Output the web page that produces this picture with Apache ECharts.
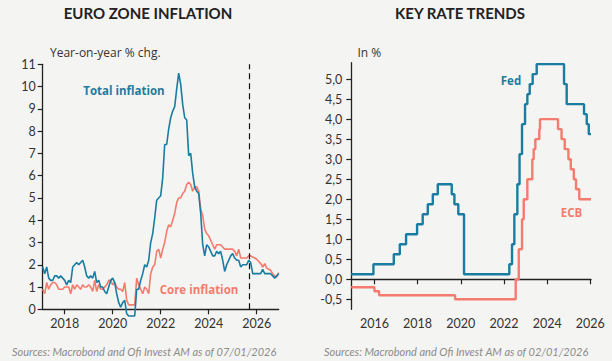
<!DOCTYPE html>
<html><head><meta charset="utf-8">
<script src="https://cdn.jsdelivr.net/npm/echarts@6/dist/echarts.min.js"></script>
<style>html,body{margin:0;padding:0;background:#f4f4f2;}#c{width:612px;height:361px;}</style>
</head><body><div id="c"></div>
<script>
// ---------- Euro zone inflation (monthly, Feb 2017 -> Dec 2026) ----------
const inflationStartYear = 2017;
const inflationStartMonth = 2; // February
const headline = [
  1.9,1.6,1.9,1.4,1.3,1.3,1.5,1.5,1.4,1.5,1.4,
  1.3,1.1,1.3,1.2,1.9,2.0,2.1,2.0,2.1,2.2,1.9,1.5,
  1.4,1.5,1.4,1.7,1.2,1.3,1.0,1.0,0.8,0.7,1.0,1.3,
  1.4,1.2,0.7,0.3,0.1,0.3,0.4,-0.2,-0.3,-0.3,-0.3,-0.3,
  0.9,0.9,1.3,1.6,2.0,1.9,2.2,3.0,3.4,4.1,4.9,5.0,
  5.1,5.9,7.4,7.4,8.1,8.6,8.9,9.1,9.9,10.6,10.1,9.2,
  8.6,8.5,6.9,7.0,6.1,5.5,5.3,5.2,4.3,2.9,2.4,2.9,
  2.8,2.6,2.4,2.4,2.6,2.5,2.6,2.2,1.7,2.0,2.2,2.4,
  2.5,2.3,2.2,2.2,1.9,2.0,2.0,2.0,2.2,2.1,1.6,1.6,
  1.6,1.6,1.6,1.8,1.6,1.6,1.6,1.6,1.5,1.4,1.5,1.6
];
const core = [
  0.9,0.7,1.2,0.9,1.1,1.2,1.2,1.1,0.9,0.9,0.9,
  1.0,1.0,1.0,0.7,1.1,0.9,1.1,1.0,0.9,1.1,1.0,1.0,
  1.1,1.0,0.8,1.3,0.8,1.1,0.9,0.9,1.0,1.1,1.3,1.3,
  1.1,1.2,1.0,0.9,0.9,0.8,1.2,0.4,0.2,0.2,0.2,0.2,
  1.4,1.1,0.9,0.7,1.0,0.9,0.7,1.6,1.9,2.0,2.6,2.7,
  2.3,2.7,3.0,3.5,3.8,3.7,4.0,4.3,4.8,5.0,5.0,5.2,
  5.3,5.6,5.7,5.6,5.3,5.5,5.5,5.3,4.5,4.2,3.6,3.4,
  3.3,3.1,2.9,2.7,2.9,2.9,2.9,2.8,2.7,2.7,2.7,2.7,
  2.7,2.6,2.4,2.7,2.3,2.3,2.3,2.3,2.4,2.4,2.35,2.3,
  2.25,2.15,2.05,1.9,2.05,1.85,1.8,1.75,1.6,1.5,1.45,1.65
];
const forecastStart = '2025-09-10';
const leftYTicks = [0,1,2,3,4,5,6,7,8,9,10,11];
const leftXTicks = [2018,2020,2022,2024,2026];

// ---------- Key rates (date of change -> new level) ----------
const fedDates = ['2014-12-04','2015-12-15','2016-11-24','2017-03-06','2017-06-20','2017-12-23','2018-03-28','2018-06-22','2018-09-15','2018-12-08','2019-08-01','2019-09-15','2019-11-20','2020-02-25','2022-04-01','2022-05-17','2022-06-25','2022-08-15','2022-09-21','2022-11-02','2022-12-23','2023-01-31','2023-03-12','2023-05-01','2023-07-08','2024-10-13','2024-11-27','2025-09-16','2025-11-01','2025-12-05','2026-01-12'];
const fedValues = [0.125,0.375,0.625,0.875,1.125,1.375,1.625,1.875,2.125,2.375,2.125,1.875,1.625,0.125,0.375,0.875,1.625,2.375,3.125,3.875,4.375,4.625,4.875,5.125,5.375,4.875,4.375,4.125,3.875,3.625,3.625];
const ecbDates = ['2014-12-04','2016-01-01','2016-03-20','2019-09-26','2022-07-18','2022-09-08','2022-11-02','2022-12-01','2023-01-31','2023-04-25','2023-05-18','2023-06-15','2023-08-21','2023-09-02','2024-07-03','2024-09-01','2024-10-25','2024-12-26','2025-02-05','2025-03-28','2025-05-04','2025-06-28','2026-01-12'];
const ecbValues = [-0.2,-0.3,-0.4,-0.5,0,0.75,1.5,2.0,2.5,3.0,3.25,3.5,3.75,4.0,3.75,3.5,3.25,3.0,2.75,2.5,2.25,2.0,2.0];
const rightYTicks = [-0.5,0,0.5,1,1.5,2,2.5,3,3.5,4,4.5,5];
const rightXTicks = [2016,2018,2020,2022,2024,2026];

// ---------- helpers ----------
function toYear(s){
  const p = s.split('-').map(Number);
  const a = Date.UTC(p[0],0,1), b = Date.UTC(p[0]+1,0,1);
  return p[0] + (Date.UTC(p[0],p[1]-1,p[2]) - a)/(b - a);
}
function monthX(i){
  const m = inflationStartMonth - 1 + i;
  return inflationStartYear + m/12;
}
const headlineData = headline.map((v,i)=>[monthX(i), v]);
const coreData = core.map((v,i)=>[monthX(i), v]);
const fedData = fedDates.map((d,i)=>[toYear(d), fedValues[i]]);
const ecbData = ecbDates.map((d,i)=>[toYear(d), ecbValues[i]]);

const BLUE = '#1b7ca1', RED = '#f47b6e', INK = '#222', LBL = '#333';
const FONT = 'Lato, "DejaVu Sans", sans-serif';
const WIDE = '"Open Sans", Lato, sans-serif';

const axisCommon = {
  axisLine: {show:true, lineStyle:{color:INK, width:1.3}},
  axisTick: {show:true, length:5, lineStyle:{color:INK, width:1.2}},
  splitLine: {show:false},
  axisLabel: {color:LBL, fontSize:12.5, fontFamily:FONT}
};

const chart = echarts.init(document.getElementById('c'), null, {renderer:'svg'});
chart.setOption({
  backgroundColor:'#f4f4f2',
  animation:false,
  grid:[
    {left:42.7, top:64.3, width:236, height:245},
    {left:351.3, top:62.7, width:239.7, height:246.6}
  ],
  xAxis:[
    Object.assign({}, axisCommon, {type:'value', gridIndex:0, min:monthX(0), max:monthX(headline.length-1),
      axisTick:Object.assign({}, axisCommon.axisTick, {customValues:leftXTicks}),
      axisLabel:Object.assign({}, axisCommon.axisLabel, {customValues:leftXTicks, margin:8, formatter:v=>String(Math.round(v))})}),
    Object.assign({}, axisCommon, {type:'value', gridIndex:1, min:toYear('2014-12-06'), max:toYear('2026-01-12'),
      axisTick:Object.assign({}, axisCommon.axisTick, {customValues:rightXTicks}),
      axisLabel:Object.assign({}, axisCommon.axisLabel, {customValues:rightXTicks, margin:8, formatter:v=>String(Math.round(v))})})
  ],
  yAxis:[
    Object.assign({}, axisCommon, {type:'value', gridIndex:0, min:0, max:11,
      axisTick:Object.assign({}, axisCommon.axisTick, {customValues:leftYTicks}),
      axisLabel:Object.assign({}, axisCommon.axisLabel, {customValues:leftYTicks, margin:7})}),
    Object.assign({}, axisCommon, {type:'value', gridIndex:1, min:-0.75, max:5.41,
      axisTick:Object.assign({}, axisCommon.axisTick, {customValues:rightYTicks}),
      axisLabel:Object.assign({}, axisCommon.axisLabel, {customValues:rightYTicks, margin:9,
        formatter:v=>v.toFixed(1).replace('.', ',')})})
  ],
  series:[
    {type:'line', name:'Total inflation', xAxisIndex:0, yAxisIndex:0, data:headlineData, showSymbol:false, clip:false,
      lineStyle:{color:BLUE, width:1.6}, z:3,
      markLine:{silent:true, symbol:['none','none'], label:{show:false},
        lineStyle:{color:'#111', type:[6,4], width:1.2}, data:[{xAxis:toYear(forecastStart)}]}},
    {type:'line', name:'Core inflation', xAxisIndex:0, yAxisIndex:0, data:coreData, showSymbol:false, clip:false,
      lineStyle:{color:RED, width:1.6}, z:2},
    {type:'line', name:'Fed', xAxisIndex:1, yAxisIndex:1, data:fedData, step:'end', showSymbol:false,
      lineStyle:{color:BLUE, width:2.4}},
    {type:'line', name:'ECB', xAxisIndex:1, yAxisIndex:1, data:ecbData, step:'end', showSymbol:false,
      lineStyle:{color:RED, width:2.4}}
  ],
  graphic:[
    {type:'text', x:148, y:13, style:{text:'EURO ZONE INFLATION', fill:INK, font:'bold 15px '+FONT, textAlign:'center', textVerticalAlign:'middle'}},
    {type:'text', x:460, y:13, style:{text:'KEY RATE TRENDS', fill:INK, font:'bold 15px '+FONT, textAlign:'center', textVerticalAlign:'middle'}},
    {type:'text', x:50, y:52, style:{text:'Year-on-year % chg.', fill:LBL, font:'12px '+WIDE, textAlign:'left', textVerticalAlign:'middle'}},
    {type:'text', x:357.5, y:52, style:{text:'In %', fill:LBL, font:'12px '+WIDE, textAlign:'left', textVerticalAlign:'middle'}},
    {type:'text', x:124, y:90, style:{text:'Total inflation', fill:BLUE, font:'bold 11.5px '+WIDE, textAlign:'center', textVerticalAlign:'middle'}},
    {type:'text', x:199, y:289, style:{text:'Core inflation', fill:RED, font:'bold 11.5px '+WIDE, textAlign:'center', textVerticalAlign:'middle'}},
    {type:'text', x:511, y:80, style:{text:'Fed', fill:BLUE, font:'bold 11.5px '+WIDE, textAlign:'center', textVerticalAlign:'middle'}},
    {type:'text', x:571.5, y:212.5, style:{text:'ECB', fill:RED, font:'bold 11.5px '+WIDE, textAlign:'center', textVerticalAlign:'middle'}},
    {type:'text', x:12, y:351, style:{text:'Sources: Macrobond and Ofi Invest AM as of 07/01/2026', fill:'#8d8b88', font:'italic 11px '+FONT, textAlign:'left', textVerticalAlign:'middle'}},
    {type:'text', x:324, y:351, style:{text:'Sources: Macrobond and Ofi Invest AM as of 02/01/2026', fill:'#8d8b88', font:'italic 11px '+FONT, textAlign:'left', textVerticalAlign:'middle'}}
  ]
});
</script>
</body></html>
